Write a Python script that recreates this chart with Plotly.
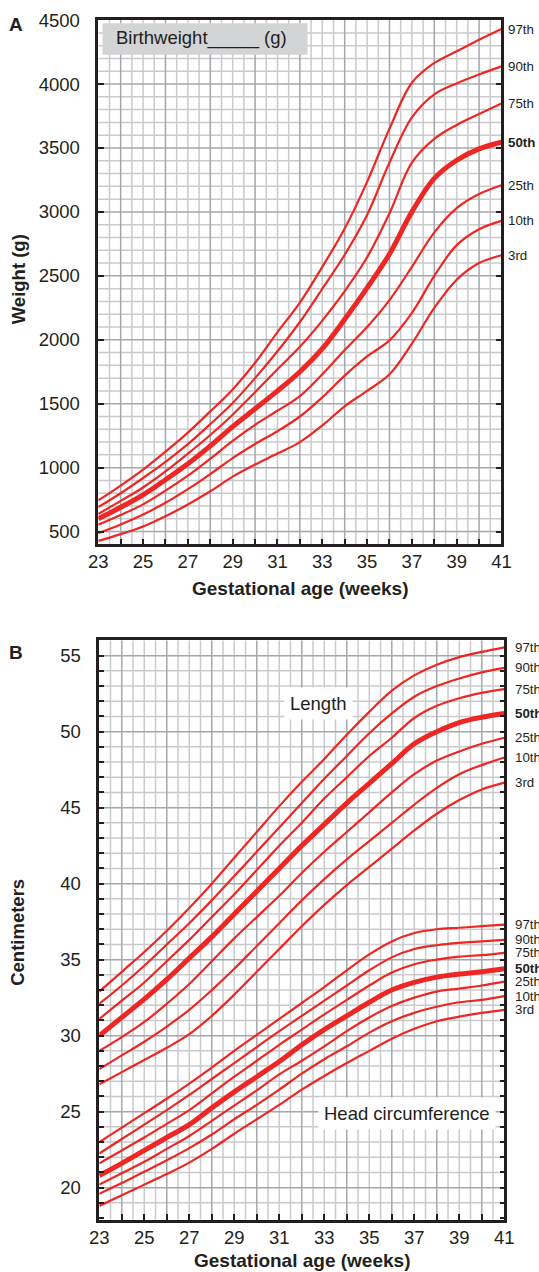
import plotly.graph_objects as go

W_REF, H = 539, 1272
W = 548  # page width that fills the captured screenshot

weeks = list(range(23, 42))
pct_labels = ["97th", "90th", "75th", "50th", "25th", "10th", "3rd"]

# Panel A: birthweight (g)
w97 = [744, 860, 985, 1125, 1274, 1440, 1612, 1820, 2060, 2290, 2570, 2870, 3235, 3651, 4010, 4165, 4256, 4346, 4430]
w90 = [691, 800, 919, 1045, 1184, 1340, 1506, 1700, 1910, 2139, 2399, 2665, 2976, 3386, 3739, 3920, 4005, 4075, 4138]
w75 = [638, 740, 845, 970, 1109, 1255, 1414, 1590, 1770, 1945, 2150, 2380, 2645, 2989, 3385, 3571, 3680, 3765, 3847]
w50 = [601, 690, 787, 905, 1030, 1170, 1321, 1460, 1600, 1750, 1930, 2160, 2406, 2671, 3000, 3262, 3404, 3493, 3545]
w25 = [554, 630, 713, 820, 937, 1070, 1210, 1335, 1445, 1560, 1730, 1920, 2100, 2310, 2570, 2840, 3030, 3140, 3209]
w10 = [487, 555, 633, 725, 832, 950, 1075, 1185, 1285, 1400, 1550, 1720, 1870, 1995, 2210, 2500, 2740, 2865, 2930]
w3 = [427, 480, 540, 620, 712, 815, 930, 1025, 1110, 1200, 1330, 1480, 1600, 1730, 1970, 2250, 2470, 2600, 2661]

# Panel B: length (cm)
L97 = [32.9, 34.2, 35.5, 36.9, 38.4, 40.0, 41.7, 43.4, 45.1, 46.7, 48.2, 49.8, 51.3, 52.7, 53.7, 54.4, 54.9, 55.25, 55.55]
L90 = [32.1, 33.3, 34.6, 36.0, 37.4, 38.9, 40.5, 42.1, 43.7, 45.3, 46.9, 48.4, 49.9, 51.2, 52.3, 53.0, 53.5, 53.9, 54.2]
L75 = [31.1, 32.3, 33.5, 34.9, 36.3, 37.8, 39.3, 40.9, 42.5, 44.0, 45.6, 47.0, 48.4, 49.6, 50.9, 51.7, 52.2, 52.55, 52.8]
L50 = [30.0, 31.2, 32.4, 33.7, 35.1, 36.5, 38.0, 39.5, 41.0, 42.5, 43.9, 45.3, 46.6, 47.9, 49.2, 50.0, 50.6, 50.95, 51.2]
L25 = [29.0, 29.9, 30.9, 32.1, 33.4, 34.9, 36.4, 37.8, 39.2, 40.7, 42.1, 43.4, 44.7, 46.0, 47.2, 48.1, 48.7, 49.2, 49.6]
L10 = [27.8, 28.7, 29.6, 30.6, 31.7, 33.0, 34.4, 35.9, 37.4, 38.9, 40.3, 41.6, 42.8, 44.0, 45.2, 46.3, 47.2, 47.8, 48.3]
L3 = [26.8, 27.6, 28.4, 29.2, 30.1, 31.3, 32.7, 34.2, 35.7, 37.2, 38.6, 39.9, 41.1, 42.3, 43.5, 44.6, 45.5, 46.2, 46.65]

# Panel B: head circumference (cm)
H97 = [23.0, 23.95, 24.9, 25.85, 26.85, 27.9, 29.0, 30.05, 31.1, 32.15, 33.2, 34.3, 35.35, 36.2, 36.75, 37.0, 37.1, 37.2, 37.3]
H90 = [22.25, 23.2, 24.15, 25.1, 26.1, 27.15, 28.2, 29.25, 30.3, 31.3, 32.3, 33.3, 34.3, 35.15, 35.7, 35.95, 36.1, 36.2, 36.3]
H75 = [21.6, 22.45, 23.3, 24.2, 25.1, 26.2, 27.3, 28.35, 29.4, 30.4, 31.4, 32.35, 33.3, 34.15, 34.7, 35.0, 35.2, 35.3, 35.45]
H50 = [20.8, 21.6, 22.45, 23.3, 24.15, 25.25, 26.3, 27.3, 28.3, 29.4, 30.4, 31.3, 32.2, 33.0, 33.5, 33.85, 34.05, 34.2, 34.4]
H25 = [20.2, 20.95, 21.7, 22.55, 23.4, 24.4, 25.4, 26.4, 27.45, 28.35, 29.3, 30.3, 31.2, 31.95, 32.5, 32.9, 33.1, 33.3, 33.55]
H10 = [19.6, 20.3, 21.05, 21.8, 22.6, 23.5, 24.5, 25.45, 26.45, 27.5, 28.45, 29.3, 30.2, 30.95, 31.5, 31.9, 32.2, 32.35, 32.6]
H3 = [18.8, 19.5, 20.2, 20.9, 21.65, 22.55, 23.55, 24.5, 25.45, 26.45, 27.35, 28.2, 29.0, 29.8, 30.45, 30.95, 31.25, 31.5, 31.7]

weight_series = [w97, w90, w75, w50, w25, w10, w3]
length_series = [L97, L90, L75, L50, L25, L10, L3]
head_series = [H97, H90, H75, H50, H25, H10, H3]

RED = "#ee2624"
INK = "#231f20"
GRID_LIGHT = "#cbcbcb"
GRID_DARK = "#a4a7ad"
FONT = "Liberation Sans, Arial, Helvetica, sans-serif"


# screen calibration: target picture pixel -> layout position
def px_x(t):
    return ((t - 9.0) / 0.982) / W_REF


def px_y(t):
    return 1 - ((t - 3.3) / 0.9974) / H


A_X = [px_x(97.5), px_x(501.7)]
A_Y = [px_y(540.5), px_y(13.4)]
B_X = [px_x(98.5), px_x(504.5)]
B_Y = [px_y(1219.3), px_y(637.1)]

fig = go.Figure()


def line_style(i):
    return dict(color=RED, width=5 if pct_labels[i] == "50th" else 2.2, shape="spline", smoothing=1.0)


for i, s in enumerate(weight_series):
    fig.add_trace(go.Scatter(x=weeks, y=s, mode="lines", xaxis="x", yaxis="y",
                             line=line_style(i), showlegend=False, hoverinfo="skip"))
for group in (length_series, head_series):
    for i, s in enumerate(group):
        fig.add_trace(go.Scatter(x=weeks, y=s, mode="lines", xaxis="x2", yaxis="y2",
                                 line=line_style(i), showlegend=False, hoverinfo="skip"))

shapes = []


def grid(xref, yref, xs_light, xs_dark, ys_light, ys_dark):
    for v in xs_light:
        shapes.append(dict(type="line", xref=xref, yref=yref + " domain", x0=v, x1=v, y0=0, y1=1,
                           line=dict(color=GRID_LIGHT, width=1.5), layer="below"))
    for v in ys_light:
        shapes.append(dict(type="line", xref=xref + " domain", yref=yref, x0=0, x1=1, y0=v, y1=v,
                           line=dict(color=GRID_LIGHT, width=1.5), layer="below"))
    for v in xs_dark:
        shapes.append(dict(type="line", xref=xref, yref=yref + " domain", x0=v, x1=v, y0=0, y1=1,
                           line=dict(color=GRID_DARK, width=1.5), layer="below"))
    for v in ys_dark:
        shapes.append(dict(type="line", xref=xref + " domain", yref=yref, x0=0, x1=1, y0=v, y1=v,
                           line=dict(color=GRID_DARK, width=1.5), layer="below"))


half_weeks = [23 + 0.5 * k for k in range(1, 36)]
even_weeks = [w for w in range(24, 41, 2)]
grid("x", "y", [v for v in half_weeks if v not in even_weeks], even_weeks,
     [v for v in range(500, 4500, 100) if v % 500 != 0], list(range(500, 4500, 500)))
grid("x2", "y2", [v for v in half_weeks if v not in even_weeks], even_weeks,
     [v for v in range(19, 56) if v % 5 != 0], list(range(20, 56, 5)))

xt_text = [str(w) if w % 2 == 1 else "" for w in weeks]

common_x = dict(range=[23, 41], tickmode="array", tickvals=weeks, ticktext=xt_text,
                ticks="inside", ticklen=6, tickwidth=2, tickcolor=INK,
                showline=True, linewidth=2.5, linecolor=INK, mirror=True,
                showgrid=False, zeroline=False, ticklabeloverflow="allow",
                tickfont=dict(size=18.5, color=INK, family=FONT), ticklabelstandoff=-1)

fig.update_layout(
    width=W, height=H,
    margin=dict(l=0, r=0, t=0, b=0),
    paper_bgcolor="white", plot_bgcolor="white",
    font=dict(family=FONT, color=INK),
    showlegend=False,
    xaxis=dict(domain=A_X, anchor="y", **common_x),
    yaxis=dict(domain=A_Y, anchor="x", range=[400, 4500.5], tickmode="array",
               tickvals=list(range(500, 4501, 500)), ticktext=[str(v) for v in range(500, 4501, 500)],
               ticks="inside", ticklen=6, tickwidth=2, tickcolor=INK,
               showline=True, linewidth=2.5, linecolor=INK, mirror="ticks",
               showgrid=False, zeroline=False, ticklabeloverflow="allow",
               tickfont=dict(size=18.5, color=INK, family=FONT), ticklabelstandoff=12),
    xaxis2=dict(domain=B_X, anchor="y2", **common_x),
    yaxis2=dict(domain=B_Y, anchor="x2", range=[17.9, 56], tickmode="array",
                tickvals=list(range(18, 57)),
                ticktext=[str(v) if v % 5 == 0 else "" for v in range(18, 57)],
                ticks="inside", ticklen=5, tickwidth=2, tickcolor=INK,
                showline=True, linewidth=2.5, linecolor=INK, mirror="ticks",
                showgrid=False, zeroline=False, ticklabeloverflow="allow",
                tickfont=dict(size=18.5, color=INK, family=FONT), ticklabelstandoff=12),
)

ann = []
# Gray "Birthweight" box
shapes.append(dict(type="rect", xref="paper", yref="paper",
                   x0=px_x(101.7), x1=px_x(307.3), y0=px_y(48.3), y1=px_y(16.7),
                   fillcolor="#d3d4d6", line=dict(width=0), layer="above"))
ann.append(dict(text="Birthweight_____ (g)", xref="paper", yref="paper",
                x=px_x(113.5), y=px_y(31.5), xanchor="left", yanchor="middle", showarrow=False,
                font=dict(size=18.5, color=INK, family=FONT)))

# Percentile labels at right ends of the curves
for i, s in enumerate(weight_series):
    lab = pct_labels[i]
    ann.append(dict(text=f"<b>{lab}</b>" if lab == "50th" else lab, xref="x", yref="y",
                    x=weeks[-1], y=s[-1], xanchor="left", yanchor="middle", xshift=4.5,
                    showarrow=False, font=dict(size=13.3, color=INK, family=FONT)))
for group in (length_series, head_series):
    for i, s in enumerate(group):
        lab = pct_labels[i]
        ann.append(dict(text=f"<b>{lab}</b>" if lab == "50th" else lab, xref="x2", yref="y2",
                        x=weeks[-1], y=s[-1], xanchor="left", yanchor="middle", xshift=8.5,
                        showarrow=False, font=dict(size=13.3, color=INK, family=FONT)))

# Group labels in panel B
ann.append(dict(text="Length", xref="paper", yref="paper", x=px_x(318.5), y=px_y(700),
                xanchor="center", yanchor="middle", showarrow=False, bgcolor="white", borderpad=5,
                font=dict(size=18.5, color=INK, family=FONT)))
ann.append(dict(text="Head circumference", xref="paper", yref="paper", x=px_x(406.7), y=px_y(1113),
                xanchor="center", yanchor="middle", showarrow=False, bgcolor="white", borderpad=5,
                font=dict(size=18.5, color=INK, family=FONT)))

# Panel letters
ann.append(dict(text="<b>A</b>", xref="paper", yref="paper", x=px_x(15), y=px_y(17.5),
                xanchor="center", yanchor="middle", showarrow=False,
                font=dict(size=19, color=INK, family=FONT)))
ann.append(dict(text="<b>B</b>", xref="paper", yref="paper", x=px_x(15), y=px_y(649.5),
                xanchor="center", yanchor="middle", showarrow=False,
                font=dict(size=19, color=INK, family=FONT)))

# Axis titles
ann.append(dict(text="<b>Weight (g)</b>", xref="paper", yref="paper", x=px_x(17), y=px_y(274),
                xanchor="center", yanchor="middle", textangle=-90, showarrow=False,
                font=dict(size=18.5, color=INK, family=FONT)))
ann.append(dict(text="<b>Centimeters</b>", xref="paper", yref="paper", x=px_x(17), y=px_y(930),
                xanchor="center", yanchor="middle", textangle=-90, showarrow=False,
                font=dict(size=18.5, color=INK, family=FONT)))
ann.append(dict(text="<b>Gestational age (weeks)</b>", xref="paper", yref="paper",
                x=px_x(299.5), y=px_y(585), xanchor="center", yanchor="middle", showarrow=False,
                font=dict(size=19, color=INK, family=FONT)))
ann.append(dict(text="<b>Gestational age (weeks)</b>", xref="paper", yref="paper",
                x=px_x(301.5), y=px_y(1260), xanchor="center", yanchor="middle", showarrow=False,
                font=dict(size=19, color=INK, family=FONT)))

fig.update_layout(annotations=ann, shapes=shapes)

fig.write_html("out.html", config={"displayModeBar": False},
               post_script="document.body.style.margin='0px';document.body.style.overflow='hidden';")
